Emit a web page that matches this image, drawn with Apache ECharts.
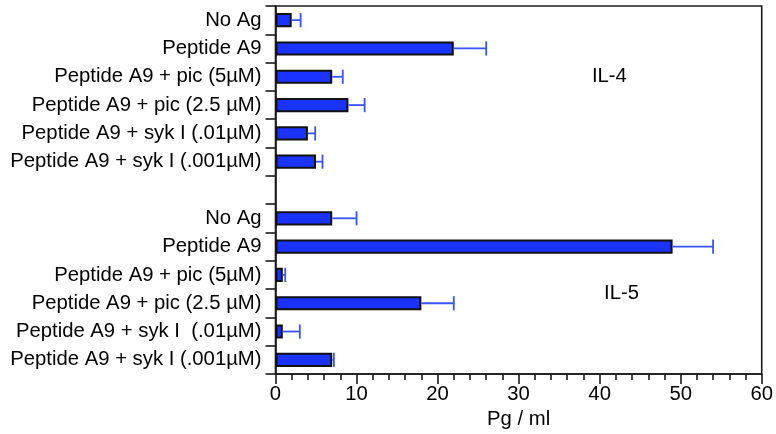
<!DOCTYPE html>
<html>
<head>
<meta charset="utf-8">
<script src="https://cdn.jsdelivr.net/npm/echarts@6/dist/echarts.min.js"></script>
<style>
  html, body { margin: 0; padding: 0; background: #fff; }
  #chart { width: 776px; height: 434px; }
</style>
</head>
<body>
<div id="chart"></div>
<script>
// Treatment groups, top to bottom (empty slot separates IL-4 and IL-5 blocks)
const categories = [
  'No Ag',
  'Peptide A9',
  'Peptide A9 + pic (5µM)',
  'Peptide A9 + pic (2.5 µM)',
  'Peptide A9 + syk I (.01µM)',
  'Peptide A9 + syk I (.001µM)',
  '',
  'No Ag',
  'Peptide A9',
  'Peptide A9 + pic (5µM)',
  'Peptide A9 + pic (2.5 µM)',
  'Peptide A9 + syk I  (.01µM)',
  'Peptide A9 + syk I (.001µM)'
];

// Mean cytokine concentration (pg/ml)
const means = [2, 22, 7, 9, 4, 5, null, 7, 49, 0.9, 18, 0.9, 7];

// Upper error (pg/ml), drawn to the right only
const errors = [1.1, 4, 1.3, 2, 0.9, 0.8, null, 3, 5, 0.3, 4, 2.1, 0.2];

// Block titles, the row each sits beside and its horizontal position (pg/ml)
const blockLabels = ['IL-4', 'IL-5'];
const blockRows = [2, 10];
const blockX = [41.2, 42.7];

const xTicks = { min: 0, max: 60, interval: 10 };

const font = '"Liberation Sans", Arial, Helvetica, sans-serif';
const fontSize = 20.3;
const ink = '#000';
const barFill = '#1a33ff';
const errColor = '#3a52ff';

const chart = echarts.init(document.getElementById('chart'));

// Rows are keyed by index so repeated group names stay separate slots
const rowKeys = categories.map((c, i) => String(i));
const errData = means.map((m, i) => (m == null ? null : [i, m, m + errors[i]])).filter(Boolean);

chart.setOption({
  animation: false,
  grid: {
    left: 275.5, right: 11, top: 6, bottom: 60,
    show: true, borderColor: '#1a1a1a', borderWidth: 1.6, backgroundColor: 'transparent'
  },
  xAxis: {
    type: 'value',
    min: xTicks.min, max: xTicks.max, interval: xTicks.interval,
    name: 'Pg / ml', nameLocation: 'middle', nameGap: 35,
    nameTextStyle: { fontFamily: font, fontSize: fontSize, color: ink },
    axisLine: { show: true, lineStyle: { color: '#1a1a1a', width: 1.6 } },
    axisTick: { show: true, inside: false, length: 10, lineStyle: { color: '#1a1a1a', width: 1.6 } },
    minorTick: { show: true, splitNumber: 5, length: 6, lineStyle: { color: '#1a1a1a', width: 1.6 } },
    splitLine: { show: false },
    axisLabel: { fontFamily: font, fontSize: fontSize, color: ink, margin: 10 }
  },
  yAxis: {
    type: 'category',
    data: rowKeys,
    inverse: true,
    axisLine: { show: true, lineStyle: { color: '#1a1a1a', width: 1.6 } },
    axisTick: { show: true, length: 10, lineStyle: { color: '#1a1a1a', width: 1.6 } },
    axisLabel: {
      fontFamily: font, fontSize: fontSize, color: ink, margin: 14,
      formatter: function (v) { return categories[Number(v)]; }
    },
    splitLine: { show: false }
  },
  series: [
    {
      type: 'bar',
      data: means,
      barWidth: '50%',
      itemStyle: { color: barFill, borderColor: '#111', borderWidth: 2 },
      z: 2
    },
    {
      type: 'custom',
      data: errData,
      encode: { y: 0, x: [1, 2] },
      z: 3,
      renderItem: function (params, api) {
        const row = api.value(0);
        const start = api.coord([api.value(1), row]);
        const end = api.coord([api.value(2), row]);
        const half = api.size([0, 1])[1] * 0.25;
        const style = { stroke: errColor, lineWidth: 1.8, fill: null };
        return {
          type: 'group',
          children: [
            { type: 'line', shape: { x1: start[0], y1: start[1], x2: end[0], y2: end[1] }, style: style },
            { type: 'line', shape: { x1: end[0], y1: end[1] - half, x2: end[0], y2: end[1] + half }, style: style }
          ]
        };
      }
    },
    {
      type: 'scatter',
      data: blockLabels.map((t, i) => ({
        value: [blockX[i], String(blockRows[i])],
        name: t,
        label: { offset: [0, i === 1 ? -10 : 0] }
      })),
      symbolSize: 0,
      itemStyle: { opacity: 1 },
      label: {
        show: true, position: 'inside', formatter: '{b}',
        fontFamily: font, fontSize: fontSize, color: ink, opacity: 1
      },
      z: 4
    }
  ]
});
</script>
</body>
</html>
